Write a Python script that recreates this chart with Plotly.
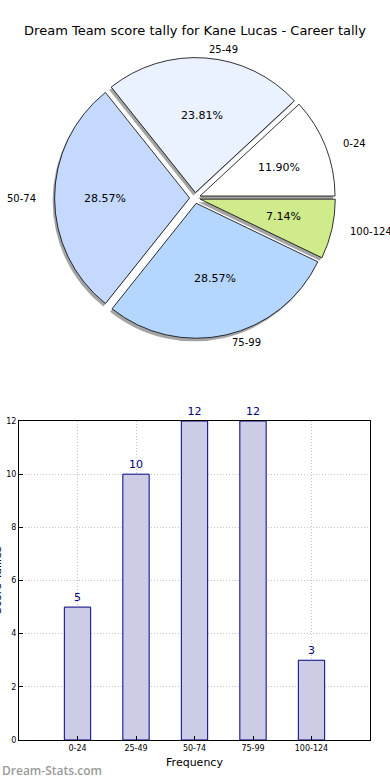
import math
import plotly.graph_objects as go

# ---------------- data ----------------
title_text = "Dream Team score tally for Kane Lucas - Career tally"
categories = ["0-24", "25-49", "50-74", "75-99", "100-124"]
tallies = [5, 10, 12, 12, 3]
pie_colors = ["#ffffff", "#eaf1ff", "#c5d9ff", "#b5d6ff", "#cfeb8c"]
y_ticks = [0, 2, 4, 6, 8, 10, 12]
y_title = "Score Tallies"
x_title = "Frequency"
watermark = "Dream-Stats.com"

# ---------------- layout constants ----------------
W, H = 390, 780
FONT = "DejaVu Sans"
cx, cy = 195, 198          # pie centre (pixels)
r = 135                    # pie radius (pixels)
pull = 0.04
half = r * (1 + pull)
total = sum(tallies)
# first wedge starts at 3 o'clock, wedges run counter-clockwise
pie_rotation = 90 - 360 * tallies[0] / total


def px(x):
    return x / W


def py(y):
    return 1 - y / H


def pie_domain(dx=0.0, dy=0.0):
    return dict(x=[px(cx - half + dx), px(cx + half + dx)],
                y=[py(cy + half + dy), py(cy - half + dy)])


fig = go.Figure()

# shadow
fig.add_trace(go.Pie(
    labels=categories, values=tallies, sort=False, direction="counterclockwise",
    rotation=pie_rotation, pull=[pull] * len(tallies), domain=pie_domain(-2, 3),
    marker=dict(colors=["rgba(90,90,90,0.55)"] * len(tallies), line=dict(width=0)),
    textinfo="none", hoverinfo="skip", showlegend=False,
))
# main pie
fig.add_trace(go.Pie(
    labels=categories, values=tallies, sort=False, direction="counterclockwise",
    rotation=pie_rotation, pull=[pull] * len(tallies), domain=pie_domain(),
    marker=dict(colors=pie_colors, line=dict(color="#000000", width=0.8)),
    textinfo="none", showlegend=False,
))

# pie labels (positions derived from the data's cumulative angles)
cum = 0
annotations = []
for lab, v in zip(categories, tallies):
    mid = (cum + v / 2) / total * 2 * math.pi
    cum += v
    c, s = math.cos(mid), math.sin(mid)
    d = pull * r
    ox, oy = cx + d * c, cy - d * s
    annotations.append(dict(
        x=px(ox + 0.63 * r * c), y=py(oy - 0.57 * r * s), xref="paper", yref="paper",
        text=f"{v / total * 100:.2f}%", showarrow=False,
        font=dict(family=FONT, size=11, color="#000"), xanchor="center", yanchor="middle"))
    annotations.append(dict(
        x=px(ox + 1.12 * r * c), y=py(oy - 1.06 * r * s), xref="paper", yref="paper",
        text=lab, showarrow=False, font=dict(family=FONT, size=10, color="#000"),
        xanchor="left" if c > 0 else "right", yanchor="middle"))

# ---------------- bar chart ----------------
fig.add_trace(go.Bar(
    x=categories, y=tallies, width=0.45,
    marker=dict(color="#ccccE6", line=dict(color="#000080", width=1)),
    text=[str(t) for t in tallies], textposition="outside",
    textfont=dict(family=FONT, size=11, color="#000080"),
    cliponaxis=False, showlegend=False, xaxis="x", yaxis="y",
))

axis_common = dict(
    showline=True, linecolor="#000", linewidth=1, mirror=True,
    showgrid=True, gridcolor="#c4c4c4", griddash="1px,2px", gridwidth=1,
    ticks="inside", ticklen=4, tickcolor="#000", zeroline=False,
    tickfont=dict(family=FONT, size=8, color="#000"), automargin=False,
)

annotations.append(dict(
    x=px(-3), y=py(580), xref="paper", yref="paper", text=y_title, textangle=-90,
    showarrow=False, font=dict(family=FONT, size=11, color="#000"),
    xanchor="center", yanchor="middle"))
annotations.append(dict(
    x=px(0), y=py(770), xref="paper", yref="paper", text=watermark,
    showarrow=False, font=dict(family="Open Sans", size=12, color="#9a9a9a", weight=600),
    xanchor="left", yanchor="middle"))

fig.update_layout(
    width=W, height=H, margin=dict(l=0, r=0, t=0, b=0, autoexpand=False),
    paper_bgcolor="#ffffff", plot_bgcolor="#ffffff",
    font=dict(family=FONT, color="#000"),
    title=dict(text=title_text, x=0.5, xanchor="center", y=py(30), yanchor="middle",
               font=dict(family=FONT, size=13, color="#000")),
    xaxis=dict(domain=[px(19), px(370)], anchor="y", type="category",
               range=[-1, len(categories)],
               title=dict(text=x_title, font=dict(family=FONT, size=11, color="#000"),
                          standoff=6),
               **axis_common),
    yaxis=dict(domain=[py(740), py(421)], anchor="x", range=[0, 12],
               tickvals=y_ticks, **axis_common),
    annotations=annotations,
)

fig.write_html("out.html", config={"displayModeBar": False},
               post_script="document.body.style.margin='0';")
